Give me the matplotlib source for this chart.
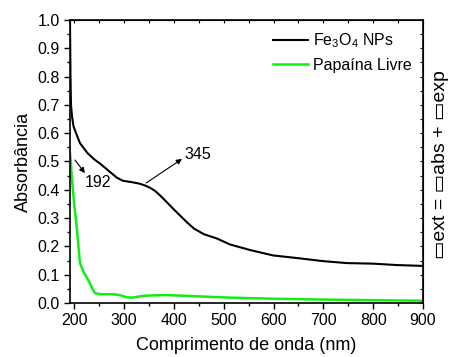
import numpy as np
import matplotlib
matplotlib.use("Agg")
import matplotlib.pyplot as plt
from matplotlib.ticker import MultipleLocator, FormatStrFormatter

plt.rcParams['font.family'] = ['Liberation Sans', 'DejaVu Sans']
plt.rcParams['mathtext.default'] = 'regular'

# Fe3O4 NPs spectrum
wl_fe = [191, 191.5, 192, 193, 195, 198, 202, 211, 226, 240, 251, 262, 272, 285,
         297, 315, 330, 342, 352, 362, 372, 385, 400, 426, 440, 460, 486, 512,
         553, 599, 646, 699, 747, 800, 848, 900]
abs_fe = [1.0, 0.9, 0.8, 0.7, 0.66, 0.625, 0.605, 0.565, 0.53, 0.507, 0.493,
          0.477, 0.462, 0.443, 0.432, 0.427, 0.422, 0.415, 0.407, 0.396, 0.38,
          0.357, 0.33, 0.285, 0.263, 0.243, 0.228, 0.207, 0.187, 0.168, 0.159,
          0.148, 0.141, 0.139, 0.134, 0.131]

# Papaina livre spectrum
wl_pap = [191, 193, 195, 200, 205, 211, 218, 224, 231, 236, 241, 251, 265, 277,
          291, 305, 317, 337, 360, 385, 426, 512, 600, 700, 800, 900]
abs_pap = [0.53, 0.49, 0.435, 0.34, 0.258, 0.141, 0.11, 0.092, 0.07, 0.05,
           0.035, 0.031, 0.031, 0.031, 0.028, 0.02, 0.019, 0.025, 0.027, 0.028,
           0.025, 0.019, 0.015, 0.012, 0.01, 0.008]

fig = plt.figure(figsize=(4.56, 3.57), dpi=100)
ax = fig.add_axes([0.1535, 0.1513, 0.774, 0.7927])

ax.plot(wl_fe, abs_fe, color='black', lw=1.5, label='Fe$_3$O$_4$ NPs')
ax.plot(wl_pap, abs_pap, color='#11ee11', lw=1.8, label='Papaína Livre')

ax.set_xlim(191, 900)
ax.set_ylim(0, 1.0)
ax.xaxis.set_major_locator(MultipleLocator(100))
ax.xaxis.set_minor_locator(MultipleLocator(50))
ax.yaxis.set_major_locator(MultipleLocator(0.1))
ax.yaxis.set_minor_locator(MultipleLocator(0.05))
ax.yaxis.set_major_formatter(FormatStrFormatter('%.1f'))
ax.tick_params(which='major', direction='out', length=4, width=1, labelsize=11.5)
ax.tick_params(which='minor', direction='out', length=2.5, width=1)
for s in ax.spines.values():
    s.set_linewidth(1.2)

top = ax.secondary_xaxis('top')
top.set_xticks(np.arange(200, 901, 50))
top.tick_params(direction='in', length=2.5, labeltop=False)
right = ax.secondary_yaxis('right')
right.set_yticks(np.arange(0, 1.01, 0.05))
right.tick_params(direction='in', length=2.5, labelright=False)

ax.set_xlabel('Comprimento de onda (nm)', fontsize=13, labelpad=6)
ax.set_ylabel('Absorbância', fontsize=13, labelpad=4)

arrow = dict(arrowstyle='-|>', color='black', lw=0.8, mutation_scale=8,
             shrinkA=0, shrinkB=0)
ax.annotate('', xy=(221, 0.459), xytext=(201, 0.505), arrowprops=arrow)
ax.text(247, 0.424, '192', fontsize=11.5, ha='center', va='center')
ax.annotate('', xy=(416, 0.509), xytext=(344, 0.424), arrowprops=arrow)
ax.text(447, 0.523, '345', fontsize=11.5, ha='center', va='center')

ax.legend(loc='upper right', frameon=False, fontsize=11.5, handlelength=2.2,
          handletextpad=0.3, borderaxespad=0.3, labelspacing=0.5)

fig.text(0.965, 0.54, '▭ext = ▭abs + ▭exp', rotation=90, fontsize=14,
         ha='center', va='center')

fig.savefig('out.png', dpi=100)
